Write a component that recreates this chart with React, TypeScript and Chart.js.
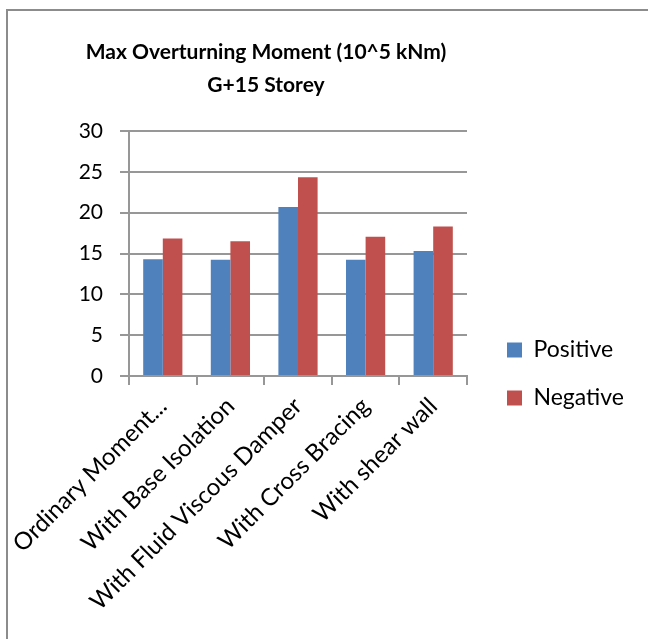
import React, { useEffect, useRef } from "react";
import { Chart, registerables } from "chart.js";

Chart.register(...registerables);

const categories = [
  "Ordinary Moment...",
  "With Base Isolation",
  "With Fluid Viscous Damper",
  "With Cross Bracing",
  "With shear wall",
];
const positiveValues = [14.3, 14.25, 20.7, 14.25, 15.3];
const negativeValues = [16.85, 16.5, 24.35, 17.05, 18.3];
const seriesNames = ["Positive", "Negative"];
const titleLines = ["Max Overturning Moment (10^5 kNm)", "G+15 Storey"];
const yMin = 0;
const yMax = 30;
const yStep = 5;

const FONT = "Lato";
const Y_FONT_SIZE = 21;
const X_FONT_SIZE = 24;
const LEGEND_FONT_SIZE = 23;
const GRID = "#979797";

const titlePlugin = {
  id: "excelTitle",
  afterDraw(chart: any) {
    const ctx = chart.ctx;
    ctx.save();
    ctx.font = `bold 21px ${FONT}`;
    ctx.fillStyle = "#000";
    ctx.textAlign = "center";
    ctx.textBaseline = "middle";
    ctx.fillText(titleLines[0], 266, 52);
    ctx.fillText(titleLines[1], 266, 85);
    ctx.restore();
  },
};

export default function App() {
  const ref = useRef<HTMLCanvasElement | null>(null);

  useEffect(() => {
    const canvas = ref.current;
    if (!canvas) return;
    const mctx = document.createElement("canvas").getContext("2d")!;
    mctx.font = `${LEGEND_FONT_SIZE}px ${FONT}`;
    const textW = Math.max(...seriesNames.map((s) => mctx.measureText(s).width));
    const legendPad = 25;
    const boxW = 15;
    const legendWidth = legendPad + boxW + LEGEND_FONT_SIZE / 2 + textW + 10;
    const legendLeft = 507 - legendPad;
    const padRight = Math.max(0, 648 - legendLeft - legendWidth);
    const gapWidth = legendLeft - 467;

    const chart = new Chart(canvas, {
      type: "bar",
      data: {
        labels: categories,
        datasets: [
          {
            label: seriesNames[0],
            data: positiveValues,
            backgroundColor: "#4F81BD",
            borderWidth: 0,
            categoryPercentage: 0.58,
            barPercentage: 1,
            yAxisID: "y",
          },
          {
            label: seriesNames[1],
            data: negativeValues,
            backgroundColor: "#C0504D",
            borderWidth: 0,
            categoryPercentage: 0.58,
            barPercentage: 1,
            yAxisID: "y",
          },
        ],
      },
      options: {
        responsive: false,
        animation: false,
        devicePixelRatio: 1,
        layout: { padding: { left: 0, top: 131, right: padRight, bottom: 22 } },
        plugins: {
          title: { display: false },
          tooltip: { enabled: false },
          legend: {
            position: "right",
            align: "center",
            labels: {
              boxWidth: boxW,
              boxHeight: 15,
              padding: legendPad,
              color: "#000",
              font: { family: FONT, size: LEGEND_FONT_SIZE },
            },
          },
        },
        scales: {
          x: {
            ticks: {
              minRotation: 45,
              maxRotation: 45,
              autoSkip: false,
              color: "#000",
              padding: 7,
              font: { family: FONT, size: X_FONT_SIZE },
            },
            grid: {
              offset: true,
              drawOnChartArea: false,
              drawTicks: true,
              tickLength: 9,
              color: GRID,
              lineWidth: 2,
            },
            border: { color: GRID, width: 2 },
            afterFit(s: any) {
              s.height = 639 - 376 - 22;
              s.paddingLeft = 0;
              s.paddingRight = 0;
            },
          },
          y: {
            min: yMin,
            max: yMax,
            ticks: {
              stepSize: yStep,
              padding: 17,
              color: "#000",
              font: { family: FONT, size: Y_FONT_SIZE },
            },
            grid: { color: GRID, lineWidth: 2, tickLength: 9, drawTicks: true },
            border: { color: GRID, width: 2 },
            afterFit(s: any) {
              s.width = 129;
              s.paddingTop = 0;
              s.paddingBottom = 0;
            },
          },
          gap: {
            type: "linear",
            position: "right",
            display: false,
            afterFit(s: any) {
              s.width = gapWidth;
              s.paddingTop = 0;
              s.paddingBottom = 0;
            },
          },
        },
      },
      plugins: [titlePlugin],
    });
    return () => chart.destroy();
  }, []);

  return (
    <div style={{ position: "absolute", left: 0, top: 0, width: 648, height: 639, background: "#fff" }}>
      <div
        style={{
          position: "absolute",
          left: 6,
          top: 9,
          right: 0,
          bottom: 0,
          borderLeft: "2px solid #8c8c8c",
          borderTop: "2px solid #8c8c8c",
        }}
      />
      <canvas
        ref={ref}
        width={648}
        height={639}
        style={{ position: "absolute", left: 0, top: 0, width: 648, height: 639, display: "block" }}
      />
    </div>
  );
}
